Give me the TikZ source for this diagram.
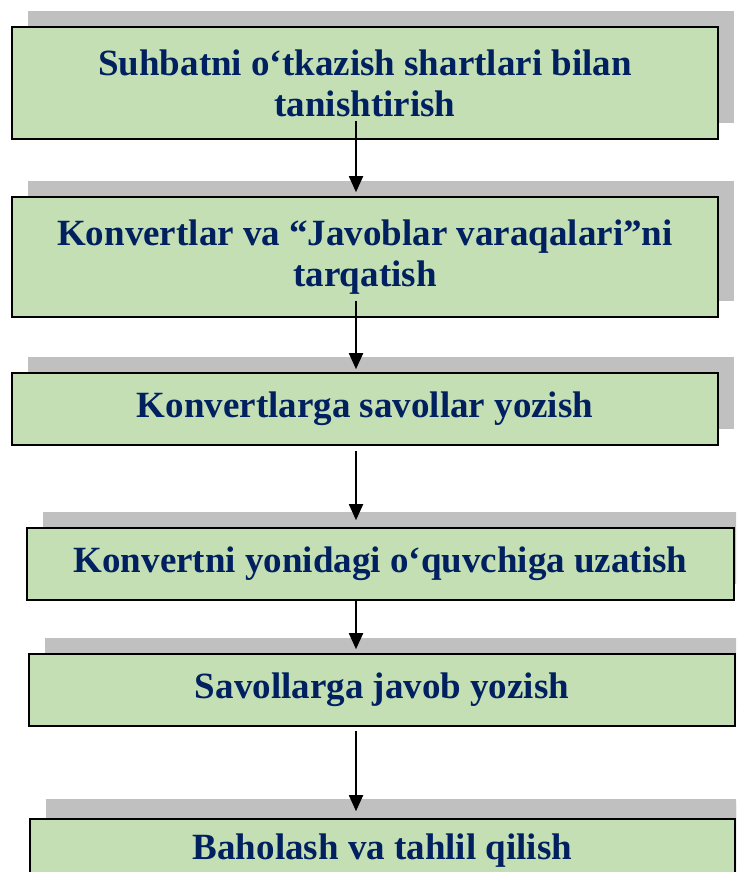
\documentclass[tikz,border=0pt]{standalone}
\usepackage{fontspec}
\setmainfont{Liberation Serif}
\usetikzlibrary{shadows,calc,arrows.meta}
\definecolor{boxgreen}{RGB}{196,223,180}
\definecolor{shadegray}{RGB}{192,192,192}
\definecolor{navy}{RGB}{0,32,96}
\tikzset{
  stepbox/.style={draw=black, line width=1.6pt, fill=boxgreen, inner sep=0pt,
    align=center, text=navy, font=\fontsize{37}{41}\selectfont\bfseries,
    general shadow={fill=shadegray, shadow xshift=16pt, shadow yshift=16pt}},
  arr/.style={draw=black, line width=1.8pt, -{Triangle[width=14pt,length=16pt]}}
}
\begin{document}
\begin{tikzpicture}[x=1pt,y=-1pt]
\useasboundingbox (0,0) rectangle (736,872);
\clip (0,0) rectangle (736,872);
\fill[white] (0,0) rectangle (736,872);
\coordinate (ax) at (356,0);
\node[stepbox, minimum width=706pt, minimum height=112pt] (b1) at (365,83)
  {Suhbatni o‘tkazish shartlari bilan\\tanishtirish};
\node[stepbox, minimum width=706pt, minimum height=120pt] (b2) at (365,257)
  {Konvertlar va “Javoblar varaqalari”ni\\tarqatish};
\node[stepbox, minimum width=706pt, minimum height=72pt] (b3) at (365,409)
  {Konvertlarga savollar yozish};
\node[stepbox, minimum width=707pt, minimum height=72pt] (b4) at (380.5,564)
  {Konvertni yonidagi o‘quvchiga uzatish};
\node[stepbox, minimum width=706pt, minimum height=72pt] (b5) at (382,690)
  {Savollarga javob yozish};
\node[stepbox, minimum width=705pt, minimum height=72pt,
  general shadow={fill=shadegray, shadow xshift=16pt, shadow yshift=20pt}] (b6) at (382.5,855)
  {\raisebox{17pt}{Baholash va tahlil qilish}};
\draw[arr] ($(b1.south -| ax)+(0,-19)$) -- ($(b2.north -| ax)+(0,-4)$);
\draw[arr] ($(b2.south -| ax)+(0,-17)$) -- ($(b3.north -| ax)+(0,-3)$);
\draw[arr] ($(b3.south -| ax)+(0,5)$) -- ($(b4.north -| ax)+(0,-7)$);
\draw[arr] ($(b4.south -| ax)+(0,0)$) -- ($(b5.north -| ax)+(0,-4)$);
\draw[arr] ($(b5.south -| ax)+(0,4)$) -- ($(b6.north -| ax)+(0,-7)$);
\end{tikzpicture}
\end{document}
